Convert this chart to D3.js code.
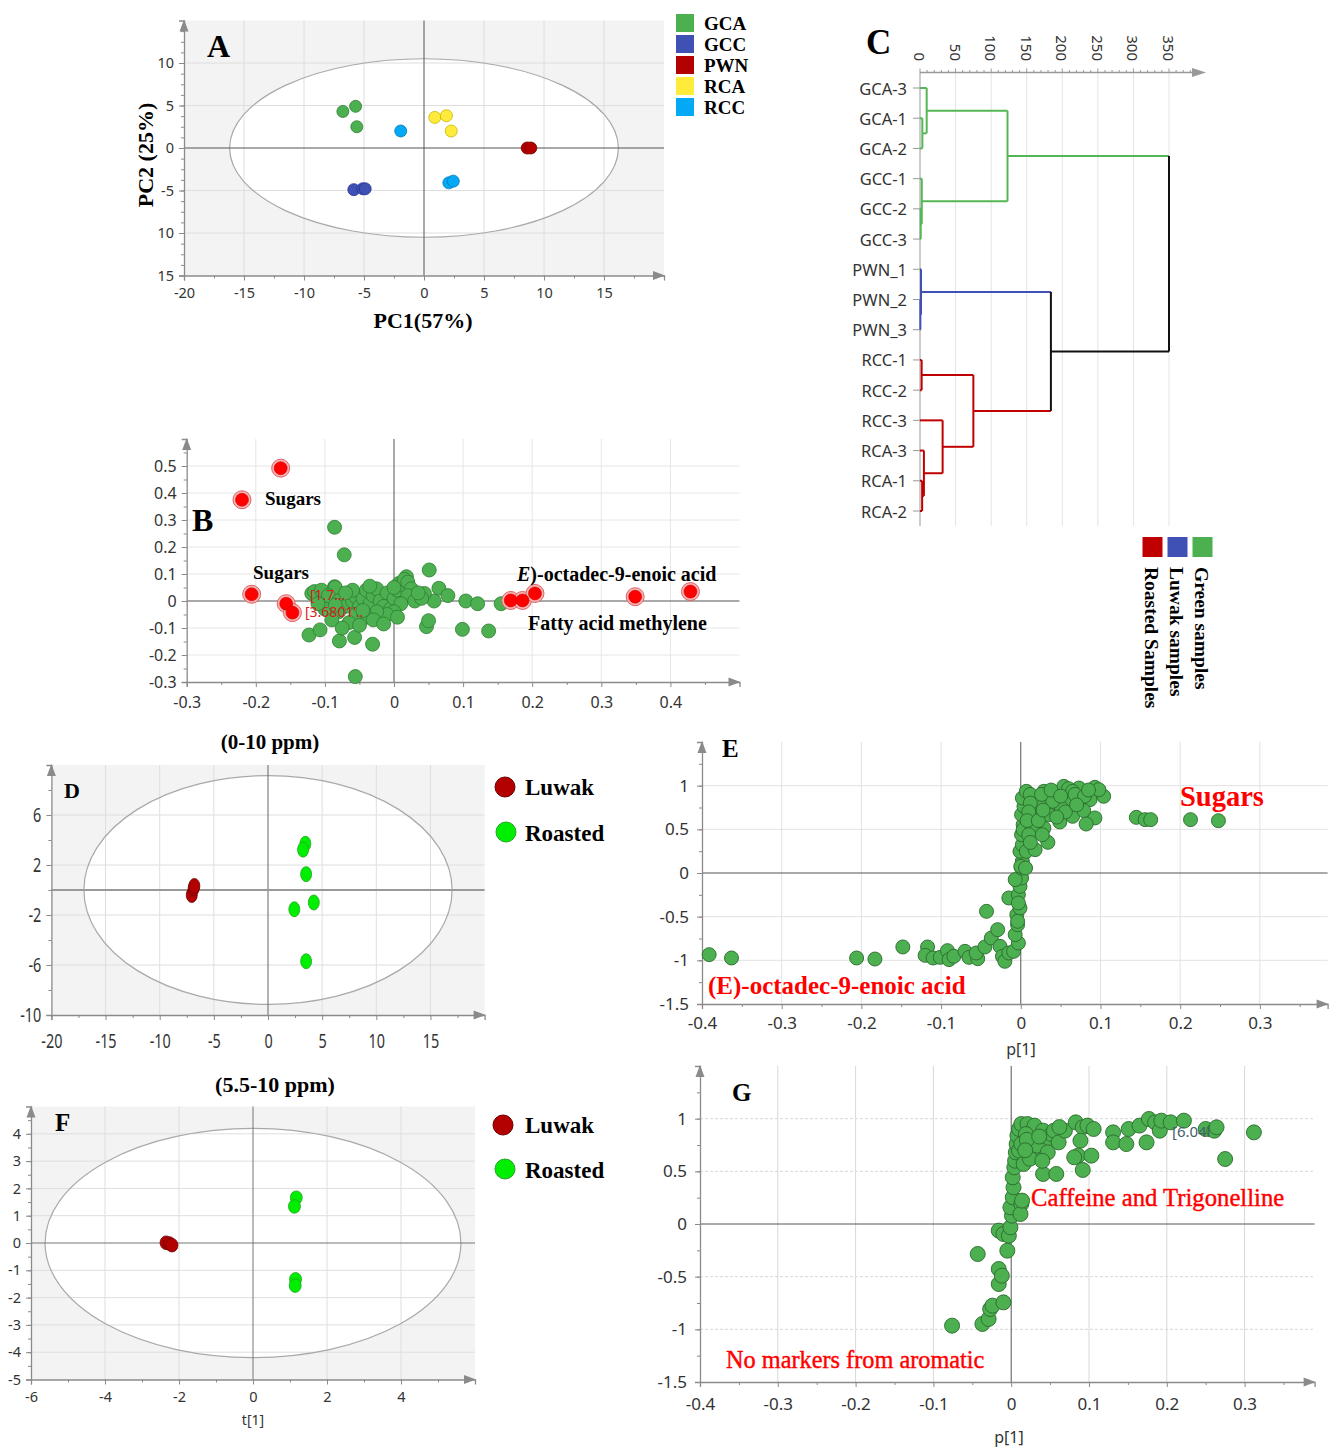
<!DOCTYPE html>
<html>
<head>
<meta charset="utf-8">
<script src="https://cdn.jsdelivr.net/npm/d3@7"></script>
<style>
  body { margin: 0; background: #fff; }
  svg { display: block; }
</style>
</head>
<body>
<script>
// 组合图：PCA 得分图、聚类树、载荷图

const serif = "'Liberation Serif', 'Times New Roman', serif";
const sans = "'Noto Sans', 'Open Sans', sans-serif";

// ---------- A: PCA 得分 ----------
const pcaGroups = ['GCA', 'GCC', 'PWN', 'RCA', 'RCC'];
const pcaColors = ['#4caf50', '#3f51b5', '#b30000', '#ffeb3b', '#03a9f4'];
const pcaStroke = ['#2e7d32', '#283593', '#7a0000', '#c9b400', '#0277bd'];
const pcaGCA = [[-6.76, 4.3], [-5.7, 4.9], [-5.6, 2.5]];
const pcaGCC = [[-5.85, -4.9], [-5.1, -4.8], [-4.9, -4.8]];
const pcaPWN = [[8.6, 0], [8.9, 0]];
const pcaRCA = [[0.9, 3.6], [1.87, 3.8], [2.27, 2.0]];
const pcaRCC = [[-1.94, 2.0], [2.07, -4.1], [2.44, -3.9]];
const pcaYTicks = [-15, -10, -5, 0, 5, 10];
const pcaYLabels = ['15', '10', '-5', '0', '5', '10'];
const pcaXTicks = [-20, -15, -10, -5, 0, 5, 10, 15];

// ---------- C: 聚类树 ----------
const leaves = ['GCA-3', 'GCA-1', 'GCA-2', 'GCC-1', 'GCC-2', 'GCC-3', 'PWN_1', 'PWN_2', 'PWN_3',
                'RCC-1', 'RCC-2', 'RCC-3', 'RCA-3', 'RCA-1', 'RCA-2'];
const leafColor = ['g', 'g', 'g', 'g', 'g', 'g', 'b', 'b', 'b', 'r', 'r', 'r', 'r', 'r', 'r'];
// [子节点 a, 子节点 b, 高度, 颜色]，编号 15 起为合并节点
const merges = [
  [1, 2, 3.3, 'g'], [0, 15, 9.4, 'g'], [4, 5, 1.0, 'g'], [3, 17, 2.5, 'g'], [16, 18, 123, 'g'],
  [7, 8, 0.5, 'b'], [6, 20, 1.4, 'b'],
  [9, 10, 2.3, 'r'], [13, 14, 3, 'r'], [12, 23, 5.5, 'r'], [11, 24, 31.8, 'r'], [22, 25, 75, 'r'],
  [21, 26, 184, 'k'], [19, 27, 350, 'k']
];
const dendroColors = {g: '#55b655', b: '#4051b5', r: '#c00000', k: '#111'};
const dendroTicks = [0, 50, 100, 150, 200, 250, 300, 350];
const dendroLegend = ['Roasted Samples', 'Luwak samples', 'Green samples'];
const dendroLegendColors = ['#c00000', '#4051b5', '#4caf50'];

// ---------- B: 载荷图 (0-10 ppm) ----------
const bRed = [[-0.164, 0.492], [-0.22, 0.375], [-0.206, 0.025], [-0.156, -0.01], [-0.147, -0.043],
              [0.169, 0.002], [0.186, 0.002], [0.204, 0.028], [0.349, 0.016], [0.429, 0.035]];
const bGreen = [
  [-0.086, 0.273], [-0.072, 0.171], [0.051, 0.115], [0.104, 0.0], [0.121, -0.01], [0.155, -0.01],
  [0.099, -0.105], [0.137, -0.111], [-0.056, -0.28], [-0.031, -0.16], [-0.057, -0.135], [-0.079, -0.148],
  [-0.123, -0.126], [-0.107, -0.107], [0.047, -0.095], [0.05, -0.073], [0.065, 0.047], [0.078, 0.02],
  [0.058, 0.0], [0.044, 0.028], [0.018, 0.09], [0.007, 0.065], [-0.086, 0.053], [-0.103, 0.032],
  [-0.119, 0.028], [-0.115, 0.035], [-0.105, 0.04], [-0.085, 0.05], [-0.095, 0.02], [-0.08, 0.0],
  [-0.07, -0.02], [-0.06, 0.0], [-0.055, 0.015], [-0.05, -0.02], [-0.045, 0.01], [-0.04, 0.04],
  [-0.035, -0.01], [-0.03, 0.02], [-0.025, 0.045], [-0.02, 0.0], [-0.015, -0.02], [-0.01, 0.03],
  [-0.005, -0.03], [0.0, 0.01], [0.005, 0.04], [0.01, 0.06], [0.015, 0.08], [0.02, 0.07],
  [0.025, 0.045], [0.02, 0.02], [0.01, -0.01], [0.0, -0.04], [-0.01, -0.05], [-0.025, -0.04],
  [-0.04, -0.06], [-0.055, -0.05], [-0.065, -0.08], [-0.08, -0.04], [-0.09, -0.07], [-0.1, -0.03],
  [-0.11, -0.01], [-0.075, -0.1], [-0.05, -0.09], [-0.03, -0.07], [-0.015, -0.085], [0.005, -0.06],
  [0.03, 0.0], [0.04, 0.01], [0.035, 0.03], [-0.06, 0.04], [-0.07, 0.03], [-0.085, -0.015],
  [-0.045, -0.035], [-0.035, 0.055], [0.0, 0.05]
];

// ---------- D: 得分 (0-10 ppm) ----------
const dLuwak = [[-7.04, -0.4], [-6.87, 0.13], [-6.8, 0.32]];
const dRoasted = [[3.45, 3.7], [3.24, 3.23], [3.52, 1.27], [4.23, -1.0], [2.43, -1.54], [3.52, -5.7]];

// ---------- E: S-plot (0-10 ppm) ----------
const ePoints = [
  [-0.391, -0.935], [-0.363, -0.973], [-0.206, -0.973], [-0.183, -0.985], [-0.148, -0.847],
  [-0.117, -0.847], [-0.12, -0.943], [-0.11, -0.973], [-0.101, -0.966], [-0.092, -0.889],
  [-0.09, -0.992], [-0.084, -0.954], [-0.07, -0.897], [-0.065, -0.966], [-0.054, -0.981],
  [-0.056, -0.916], [-0.045, -0.847], [-0.037, -0.744], [-0.029, -0.649], [-0.043, -0.439],
  [-0.026, -0.84], [-0.023, -0.954], [-0.02, -1.011], [-0.015, -0.916], [-0.015, -0.286],
  [-0.009, -0.897], [-0.003, -0.802], [-0.007, -0.706], [-0.004, -0.592], [-0.005, -0.477],
  [-0.001, -0.401], [-0.003, -0.248], [-0.001, -0.153], [0.001, -0.057], [-0.007, -0.076],
  [0.001, 0.057], [0.002, 0.134], [-0.001, 0.248], [0.002, 0.324], [0.001, 0.439], [0.003, 0.553],
  [0.001, 0.668], [0.004, 0.763], [0.002, 0.859], [-0.004, -0.553], [-0.003, -0.343], [0.003, 0.496],
  [0.0, 0.076], [0.006, 0.057], [0.007, 0.248], [0.007, 0.935], [0.018, 0.859], [0.029, 0.935],
  [0.035, 0.878], [0.046, 0.916], [0.054, 0.992], [0.06, 0.966], [0.073, 0.973], [0.093, 0.981],
  [0.09, 0.916], [0.104, 0.878], [0.087, 0.84], [0.073, 0.821], [0.06, 0.84], [0.043, 0.763],
  [0.035, 0.668], [0.029, 0.515], [0.034, 0.351], [0.049, 0.584], [0.065, 0.649], [0.079, 0.714],
  [0.093, 0.63], [0.082, 0.561], [0.018, 0.668], [0.015, 0.515], [0.018, 0.267], [0.051, 0.744],
  [0.065, 0.935], [0.098, 0.954], [0.01, 0.439], [0.027, 0.439], [0.024, 0.782], [0.04, 0.821],
  [0.012, 0.9], [0.012, 0.8], [0.01, 0.7], [0.008, 0.6], [0.012, 0.35], [0.022, 0.6],
  [0.026, 0.9], [0.038, 0.95], [0.05, 0.88], [0.068, 0.9], [0.08, 0.88], [0.056, 0.7],
  [0.045, 0.64], [0.028, 0.72], [0.07, 0.78], [0.085, 0.95],
  [0.145, 0.637], [0.156, 0.611], [0.163, 0.611], [0.213, 0.611], [0.248, 0.599]
];

// ---------- F: 得分 (5.5-10 ppm) ----------
const fLuwak = [[-2.35, 0.01], [-2.26, -0.02], [-2.19, -0.08]];
const fRoasted = [[1.17, 1.66], [1.12, 1.34], [1.15, -1.33], [1.14, -1.56]];

// ---------- G: S-plot (5.5-10 ppm) ----------
const gPoints = [
  [-0.076, -0.965], [-0.043, -0.285], [-0.037, -0.949], [-0.029, -0.902], [-0.027, -0.807],
  [-0.024, -0.775], [-0.01, -0.744], [-0.016, -0.57], [-0.016, -0.427], [-0.012, -0.491],
  [-0.005, -0.253], [-0.016, -0.063], [-0.01, -0.095], [-0.003, -0.111], [-0.001, -0.032],
  [0.001, 0.079], [-0.001, 0.158], [0.002, 0.253], [0.003, 0.348], [0.002, 0.443], [0.004, 0.538],
  [0.005, 0.601], [0.006, 0.68], [0.007, 0.759], [0.008, 0.839], [0.01, 0.902], [0.013, 0.19],
  [0.012, 0.095], [0.014, 0.222], [0.013, 0.949], [0.021, 0.949], [0.03, 0.934], [0.019, 0.854],
  [0.01, 0.696], [0.027, 0.665], [0.033, 0.744], [0.041, 0.886], [0.05, 0.807], [0.047, 0.68],
  [0.052, 0.854], [0.055, 0.886], [0.061, 0.775], [0.069, 0.886], [0.083, 0.965], [0.092, 0.918],
  [0.098, 0.934], [0.106, 0.902], [0.089, 0.791], [0.086, 0.649], [0.081, 0.633], [0.092, 0.513],
  [0.103, 0.649], [0.041, 0.475], [0.058, 0.475], [0.131, 0.87], [0.131, 0.775], [0.148, 0.759],
  [0.151, 0.902], [0.165, 0.934], [0.174, 0.775], [0.177, 0.997], [0.185, 0.965], [0.191, 0.886],
  [0.193, 0.981], [0.205, 0.965], [0.222, 0.981], [0.25, 0.902], [0.261, 0.886], [0.312, 0.87],
  [0.275, 0.617], [0.264, 0.918], [0.013, 0.759], [0.016, 0.57],
  [0.02, 0.8], [0.024, 0.62], [0.036, 0.83], [0.04, 0.6], [0.018, 0.7], [0.062, 0.92]
];

const svg = d3.select('body').append('svg').attr('width', 1330).attr('height', 1447);

function txt(x, y, s, size, opts = {}) {
  return svg.append('text')
    .attr('x', x).attr('y', y)
    .attr('font-family', opts.family || serif)
    .attr('font-size', size)
    .attr('font-weight', opts.weight || 'bold')
    .attr('font-style', opts.italic ? 'italic' : null)
    .attr('text-anchor', opts.anchor || 'start')
    .attr('fill', opts.fill || '#000')
    .text(s);
}

function range(a, b, step) {
  const out = [];
  for (let v = a; v <= b + 1e-9; v += step) out.push(+v.toFixed(4));
  return out;
}

// 通用散点面板：背景、椭圆、网格、十字线、坐标轴
function drawScatter(c) {
  const x = d3.scaleLinear().domain(c.xDomain).range(c.xRange);
  const y = d3.scaleLinear().domain(c.yDomain).range(c.yRange);
  const g = svg.append('g');
  const [xl, xr] = c.xRange, [yb, yt] = c.yRange;

  if (c.bg) g.append('rect').attr('x', xl).attr('y', yt).attr('width', xr - xl).attr('height', yb - yt).attr('fill', c.bg);
  if (c.ellipse) {
    g.append('ellipse').attr('cx', x(0)).attr('cy', y(0))
      .attr('rx', x(c.ellipse[0]) - x(0)).attr('ry', y(0) - y(c.ellipse[1])).attr('fill', '#fff');
  }
  g.selectAll(null).data(c.xGrid).join('line')
    .attr('x1', d => x(d)).attr('x2', d => x(d)).attr('y1', yt).attr('y2', yb)
    .attr('stroke', c.gridColor || '#dedede').attr('stroke-width', 1);
  g.selectAll(null).data(c.yGrid).join('line')
    .attr('x1', xl).attr('x2', xr).attr('y1', d => y(d)).attr('y2', d => y(d))
    .attr('stroke', c.gridColor || '#dedede').attr('stroke-width', 1)
    .attr('stroke-dasharray', c.yGridDash || null);
  if (c.ellipse) {
    g.append('ellipse').attr('cx', x(0)).attr('cy', y(0))
      .attr('rx', x(c.ellipse[0]) - x(0)).attr('ry', y(0) - y(c.ellipse[1]))
      .attr('fill', 'none').attr('stroke', '#a9a9a9').attr('stroke-width', 1.2);
  }
  // 十字线
  g.append('line').attr('x1', x(0)).attr('x2', x(0)).attr('y1', yt).attr('y2', yb)
    .attr('stroke', c.vCross || '#555').attr('stroke-width', 1);
  g.append('line').attr('x1', xl).attr('x2', xr).attr('y1', y(0)).attr('y2', y(0))
    .attr('stroke', c.hCross || '#555').attr('stroke-width', c.hCrossW || 1);

  // 坐标轴
  const xa = g.append('g').attr('transform', `translate(0,${yb})`)
    .call(d3.axisBottom(x).tickValues(c.xTicks).tickFormat(c.xFormat || (d => d)).tickSizeOuter(0).tickSize(5).tickPadding(c.xPad || 5));
  const ya = g.append('g').attr('transform', `translate(${xl},0)`)
    .call(d3.axisLeft(y).tickValues(c.yTicks).tickFormat(c.yFormat || (d => d)).tickSizeOuter(0).tickSize(5).tickPadding(c.yPad || 5));
  [xa, ya].forEach(a => {
    a.select('.domain').attr('stroke', '#8a8a8a').attr('stroke-width', 1.3);
    a.selectAll('.tick line').attr('stroke', '#8a8a8a');
    a.selectAll('.tick text').attr('font-family', c.tickFamily || sans).attr('font-size', c.tickSize || 15).attr('fill', '#333');
    // 窄体数字：横向压缩
    if (c.tickScaleX) a.selectAll('.tick text').attr('transform', `scale(${c.tickScaleX},1)`);
  });
  if (c.xMinor) {
    g.append('g').attr('transform', `translate(0,${yb})`)
      .call(d3.axisBottom(x).tickValues(c.xMinor).tickFormat('').tickSize(3).tickSizeOuter(0))
      .call(s => s.select('.domain').remove())
      .selectAll('line').attr('stroke', '#8a8a8a');
  }
  if (c.yMinor) {
    g.append('g').attr('transform', `translate(${xl},0)`)
      .call(d3.axisLeft(y).tickValues(c.yMinor).tickFormat('').tickSize(3).tickSizeOuter(0))
      .call(s => s.select('.domain').remove())
      .selectAll('line').attr('stroke', '#8a8a8a');
  }
  // 箭头
  g.append('path').attr('d', `M${xr - 11},${yb - 4.5}L${xr + 1},${yb}L${xr - 11},${yb + 4.5}Z`).attr('fill', '#8a8a8a');
  g.append('path').attr('d', `M${xl - 4.5},${yt + 11}L${xl},${yt - 1}L${xl + 4.5},${yt + 11}Z`).attr('fill', '#8a8a8a');
  return {g, x, y};
}

// ================= A =================
{
  const p = drawScatter({
    xDomain: [-20, 20], xRange: [184, 664], yDomain: [-15, 15], yRange: [275.5, 20.5],
    bg: '#f3f3f3', ellipse: [16.2, 10.5],
    xGrid: [-15, -10, -5, 5, 10, 15], yGrid: [-10, -5, 5, 10],
    xTicks: pcaXTicks, yTicks: pcaYTicks, yFormat: (d, i) => pcaYLabels[i],
    xMinor: range(-17.5, 17.5, 5), yMinor: range(-13.75, 13.75, 1.25),
    tickSize: 14.5, xPad: 7
  });
  [pcaGCA, pcaGCC, pcaPWN, pcaRCA, pcaRCC].forEach((pts, k) => {
    p.g.selectAll(null).data(pts).join('circle')
      .attr('cx', d => p.x(d[0])).attr('cy', d => p.y(d[1])).attr('r', 6)
      .attr('fill', pcaColors[k]).attr('stroke', pcaStroke[k]).attr('stroke-width', 0.8);
  });
  txt(207, 57, 'A', 32);
  svg.append('text').attr('transform', 'translate(153,155) rotate(-90)')
    .attr('font-family', serif).attr('font-size', 22).attr('font-weight', 'bold')
    .attr('text-anchor', 'middle').text('PC2 (25%)');
  txt(423, 328, 'PC1(57%)', 22, {anchor: 'middle'});
  pcaGroups.forEach((name, k) => {
    const cy = 23 + k * 21;
    svg.append('rect').attr('x', 676).attr('y', cy - 9).attr('width', 18).attr('height', 18).attr('fill', pcaColors[k]);
    txt(704, cy + 6.5, name, 19);
  });
}

// ================= C =================
{
  const x = d3.scaleLinear().domain([0, 350]).range([920, 1169]);
  const y = d3.scaleLinear().domain([0, leaves.length - 1]).range([88, 511]);
  const g = svg.append('g');
  const axisY = 72.5;
  txt(866, 54, 'C', 35);
  // 网格
  g.selectAll(null).data(dendroTicks.slice(1)).join('line')
    .attr('x1', d => x(d)).attr('x2', d => x(d)).attr('y1', axisY).attr('y2', 526)
    .attr('stroke', '#e4e4e4');
  g.append('line').attr('x1', 920).attr('x2', 920).attr('y1', axisY).attr('y2', 526).attr('stroke', '#bbb').attr('stroke-width', 1.5);
  // 顶部坐标轴
  g.append('line').attr('x1', 920).attr('x2', 1200).attr('y1', axisY).attr('y2', axisY).attr('stroke', '#999').attr('stroke-width', 1.3);
  g.append('path').attr('d', `M1192,${axisY - 4.5}L1206,${axisY}L1192,${axisY + 4.5}Z`).attr('fill', '#999');
  g.selectAll(null).data(range(0, 380, 10)).join('line')
    .attr('x1', d => x(d)).attr('x2', d => x(d)).attr('y1', d => axisY - (d % 50 === 0 ? 4 : 2.5)).attr('y2', axisY)
    .attr('stroke', '#999');
  g.selectAll(null).data(dendroTicks).join('text')
    .attr('transform', d => `translate(${x(d)},61) rotate(90)`)
    .attr('text-anchor', 'end').attr('dominant-baseline', 'central')
    .attr('font-family', sans).attr('font-size', 15).attr('fill', '#333')
    .text(d => d);
  // 叶子
  g.selectAll(null).data(leaves).join('line')
    .attr('x1', 913).attr('x2', 920).attr('y1', (d, i) => y(i)).attr('y2', (d, i) => y(i)).attr('stroke', '#999');
  g.selectAll(null).data(leaves).join('text')
    .attr('x', 907).attr('y', (d, i) => y(i)).attr('dominant-baseline', 'central')
    .attr('text-anchor', 'end').attr('font-family', sans).attr('font-size', 16.5).attr('fill', '#333')
    .text(d => d);
  // 节点
  const nodes = leaves.map((d, i) => ({pos: i, h: 0, col: leafColor[i]}));
  merges.forEach(m => nodes.push({pos: (nodes[m[0]].pos + nodes[m[1]].pos) / 2, h: m[2], col: m[3]}));
  merges.forEach((m, k) => {
    const node = nodes[leaves.length + k];
    [m[0], m[1]].forEach(ci => {
      const ch = nodes[ci];
      g.append('line').attr('x1', x(ch.h)).attr('x2', x(node.h)).attr('y1', y(ch.pos)).attr('y2', y(ch.pos))
        .attr('stroke', dendroColors[ch.col]).attr('stroke-width', 2);
    });
    g.append('line').attr('x1', x(node.h)).attr('x2', x(node.h))
      .attr('y1', y(nodes[m[0]].pos)).attr('y2', y(nodes[m[1]].pos))
      .attr('stroke', dendroColors[node.col]).attr('stroke-width', 2);
  });
  // 图例
  dendroLegend.forEach((name, k) => {
    const cx = 1152.5 + k * 25;
    svg.append('rect').attr('x', cx - 10).attr('y', 537).attr('width', 20).attr('height', 20).attr('fill', dendroLegendColors[k]);
    svg.append('text').attr('transform', `translate(${cx - 1},567) rotate(90)`)
      .attr('dominant-baseline', 'central').attr('font-family', serif).attr('font-size', 19.5)
      .attr('font-weight', 'bold').text(name);
  });
}

// ================= B =================
{
  const p = drawScatter({
    xDomain: [-0.3, 0.5], xRange: [186.7, 739.5], yDomain: [-0.3, 0.6], yRange: [682, 439],
    xGrid: [-0.2, -0.1, 0.1, 0.2, 0.3, 0.4], yGrid: [-0.2, -0.1, 0.1, 0.2, 0.3, 0.4, 0.5],
    gridColor: '#e6e6e6',
    xTicks: range(-0.3, 0.4, 0.1), yTicks: range(-0.3, 0.5, 0.1),
    xMinor: range(-0.25, 0.45, 0.1), yMinor: range(-0.25, 0.55, 0.05),
    tickSize: 16, xPad: 10
  });
  p.g.selectAll(null).data(bGreen).join('circle')
    .attr('cx', d => p.x(d[0])).attr('cy', d => p.y(d[1])).attr('r', 7)
    .attr('fill', '#4caf50').attr('stroke', '#2f7d32').attr('stroke-width', 0.8);
  p.g.selectAll(null).data(bRed).join('circle')
    .attr('cx', d => p.x(d[0])).attr('cy', d => p.y(d[1])).attr('r', 9)
    .attr('fill', '#f4b6b6').attr('stroke', '#e06060').attr('stroke-width', 1);
  p.g.selectAll(null).data(bRed).join('circle')
    .attr('cx', d => p.x(d[0])).attr('cy', d => p.y(d[1])).attr('r', 6.5)
    .attr('fill', '#ff0000').attr('stroke', '#d00000').attr('stroke-width', 0.6);
  txt(310, 600, '[1.7…', 14, {family: sans, weight: 'normal', fill: '#d42020'});
  txt(305, 617, '[3.6801’..', 14, {family: sans, weight: 'normal', fill: '#d42020'});
  txt(192, 531, 'B', 32);
  txt(265, 505, 'Sugars', 19);
  txt(253, 579, 'Sugars', 19);
  const t = txt(517, 581, '', 20);
  t.append('tspan').attr('font-style', 'italic').text('E');
  t.append('tspan').text(')-octadec-9-enoic acid');
  txt(528, 630, 'Fatty acid methylene', 20);
  txt(270, 749, '(0-10 ppm)', 21, {anchor: 'middle'});
}

// ================= D =================
{
  const p = drawScatter({
    xDomain: [-20, 20], xRange: [51.4, 484.6], yDomain: [-10, 10], yRange: [1015, 765],
    bg: '#f3f3f3', ellipse: [17, 9.15],
    xGrid: [-15, -10, -5, 5, 10, 15], yGrid: [-6, -2, 2, 6],
    hCross: '#999', hCrossW: 2, vCross: '#666',
    xTicks: range(-20, 15, 5), yTicks: [-10, -6, -2, 2, 6],
    xMinor: range(-17.5, 17.5, 5), yMinor: range(-8, 8, 4),
    tickSize: 20, tickScaleX: 0.72, xPad: 14, yPad: 9
  });
  p.g.selectAll(null).data(dLuwak).join('ellipse')
    .attr('cx', d => p.x(d[0])).attr('cy', d => p.y(d[1])).attr('rx', 5.5).attr('ry', 7.5)
    .attr('fill', '#b30000').attr('stroke', '#6d0000').attr('stroke-width', 0.8);
  p.g.selectAll(null).data(dRoasted).join('ellipse')
    .attr('cx', d => p.x(d[0])).attr('cy', d => p.y(d[1])).attr('rx', 5.5).attr('ry', 7.5)
    .attr('fill', '#00ee00').attr('stroke', '#27a527').attr('stroke-width', 0.8);
  txt(64, 798, 'D', 22);
  svg.append('circle').attr('cx', 505).attr('cy', 787).attr('r', 10).attr('fill', '#b30000').attr('stroke', '#6d0000');
  svg.append('circle').attr('cx', 506).attr('cy', 832).attr('r', 10).attr('fill', '#00ee00').attr('stroke', '#27a527');
  txt(525, 795, 'Luwak', 23);
  txt(525, 841, 'Roasted', 23);
  txt(275, 1092, '(5.5-10 ppm)', 22, {anchor: 'middle'});
}

// ================= E =================
{
  const p = drawScatter({
    xDomain: [-0.4, 0.385], xRange: [702, 1327.6], yDomain: [-1.5, 1.5], yRange: [1004, 742],
    xGrid: [-0.3, -0.2, -0.1, 0.1, 0.2, 0.3], yGrid: [-1, -0.5, 0.5, 1], gridColor: '#e2e2e2',
    xTicks: range(-0.4, 0.3, 0.1), yTicks: range(-1.5, 1, 0.5),
    xMinor: range(-0.35, 0.35, 0.1), yMinor: range(-1.25, 1.25, 0.25),
    tickSize: 17, xPad: 8, yPad: 8
  });
  p.g.selectAll(null).data(ePoints).join('circle')
    .attr('cx', d => p.x(d[0])).attr('cy', d => p.y(d[1])).attr('r', 7)
    .attr('fill', '#4caf50').attr('stroke', '#2a6b2d').attr('stroke-width', 0.9);
  txt(722, 757, 'E', 25);
  txt(1180, 806, 'Sugars', 28.5, {fill: '#ff0000'});
  txt(708, 994, '(E)-octadec-9-enoic acid', 25, {fill: '#ff0000'});
  txt(1021, 1055, 'p[1]', 16, {family: sans, weight: 'normal', anchor: 'middle', fill: '#333'});
}

// ================= F =================
{
  const p = drawScatter({
    xDomain: [-6, 6], xRange: [31, 475], yDomain: [-5, 5], yRange: [1379.5, 1106.5],
    bg: '#f3f3f3', ellipse: [5.62, 4.2],
    xGrid: [-4, -2, 2, 4], yGrid: [-4, -3, -2, -1, 1, 2, 3, 4],
    hCross: '#777', vCross: '#777',
    xTicks: range(-6, 4, 2), yTicks: range(-5, 4, 1),
    xMinor: range(-5, 5, 1), yMinor: range(-4.5, 4.5, 0.5),
    tickSize: 14.5, xPad: 7, yPad: 5
  });
  p.g.selectAll(null).data(fLuwak).join('ellipse')
    .attr('cx', d => p.x(d[0])).attr('cy', d => p.y(d[1])).attr('rx', 6).attr('ry', 6.8)
    .attr('fill', '#b30000').attr('stroke', '#6d0000').attr('stroke-width', 0.8);
  p.g.selectAll(null).data(fRoasted).join('ellipse')
    .attr('cx', d => p.x(d[0])).attr('cy', d => p.y(d[1])).attr('rx', 6).attr('ry', 6.8)
    .attr('fill', '#00ee00').attr('stroke', '#27a527').attr('stroke-width', 0.8);
  txt(55, 1131, 'F', 25);
  svg.append('circle').attr('cx', 503).attr('cy', 1125).attr('r', 10).attr('fill', '#b30000').attr('stroke', '#6d0000');
  svg.append('circle').attr('cx', 505).attr('cy', 1169).attr('r', 10).attr('fill', '#00ee00').attr('stroke', '#27a527');
  txt(525, 1133, 'Luwak', 23);
  txt(525, 1178, 'Roasted', 23);
  txt(253, 1425, 't[1]', 14, {family: sans, weight: 'normal', anchor: 'middle', fill: '#333'});
}

// ================= G =================
{
  const p = drawScatter({
    xDomain: [-0.4, 0.39], xRange: [700, 1314.6], yDomain: [-1.5, 1.5], yRange: [1382, 1066],
    xGrid: [-0.3, -0.2, -0.1, 0.1, 0.2, 0.3], yGrid: [-1, -0.5, 0.5, 1], gridColor: '#d8d8d8', yGridDash: '3,2',
    xTicks: range(-0.4, 0.3, 0.1), yTicks: range(-1.5, 1, 0.5),
    xMinor: range(-0.35, 0.35, 0.1), yMinor: range(-1.25, 1.25, 0.25),
    tickSize: 17, xPad: 11, yPad: 8
  });
  p.g.selectAll(null).data(gPoints).join('circle')
    .attr('cx', d => p.x(d[0])).attr('cy', d => p.y(d[1])).attr('r', 7.5)
    .attr('fill', '#4caf50').attr('stroke', '#2a6b2d').attr('stroke-width', 0.9);
  txt(1172, 1137, '[6.04l', 15, {family: sans, weight: 'normal', fill: '#44606a'});
  txt(732, 1101, 'G', 25);
  txt(1031, 1206, 'Caffeine and Trigonelline', 24.7, {weight: 'normal', fill: '#ff0000'}).attr('stroke', '#ff0000').attr('stroke-width', 0.4);
  txt(726, 1368, 'No markers from aromatic', 24.3, {weight: 'normal', fill: '#ff0000'}).attr('stroke', '#ff0000').attr('stroke-width', 0.4);
  txt(1009, 1443, 'p[1]', 16, {family: sans, weight: 'normal', anchor: 'middle', fill: '#333'});
}
</script>
</body>
</html>
